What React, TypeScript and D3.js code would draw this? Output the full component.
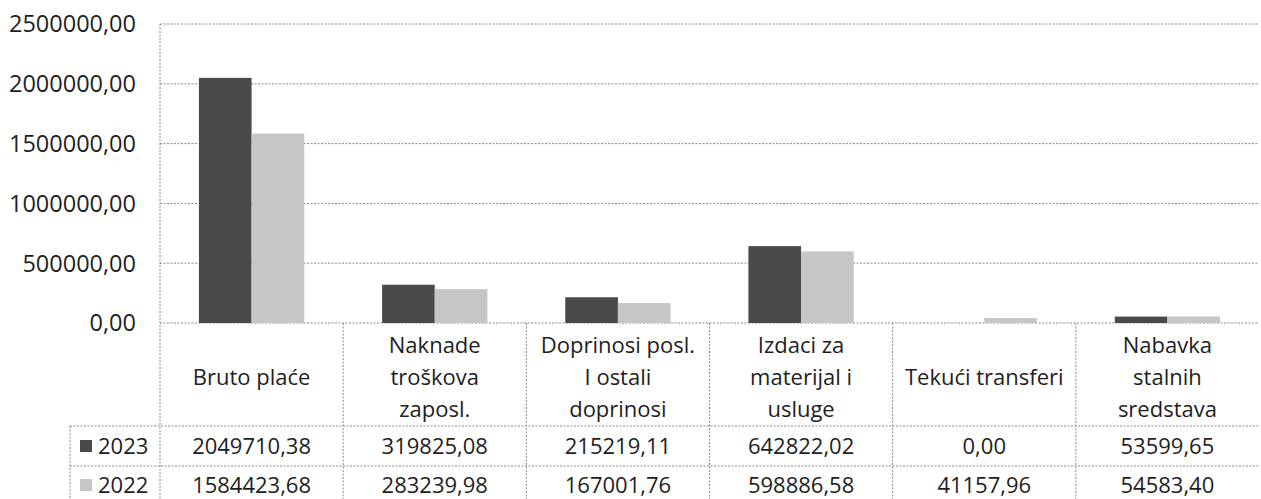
import React from "react";
import * as d3 from "d3";

const categories: string[][] = [
  ["Bruto plaće"],
  ["Naknade", "troškova", "zaposl."],
  ["Doprinosi posl.", "I ostali", "doprinosi"],
  ["Izdaci za", "materijal i", "usluge"],
  ["Tekući transferi"],
  ["Nabavka", "stalnih", "sredstava"],
];
const seriesNames = ["2023", "2022"];
const values2023 = [2049710.38, 319825.08, 215219.11, 642822.02, 0.0, 53599.65];
const values2022 = [1584423.68, 283239.98, 167001.76, 598886.58, 41157.96, 54583.4];
const yTicks = [0, 500000, 1000000, 1500000, 2000000, 2500000];

const W = 1261;
const H = 499;
const plotLeft = 160;
const plotRight = 1259;
const plotTop = 24;
const plotBottom = 323;
const row1 = 426;
const row2 = 466;
const tableBottom = 510;
const legendLeft = 70;
const FONT = "'Open Sans', Lato, sans-serif";
const FS = 22;
const colors = ["#4a4a4a", "#c6c6c6"];
const gridColor = "#8a8a8a";
const textColor = "#1e1e1e";

const fmt = (v: number) => d3.format(".2f")(v).replace(".", ",");

export default function App() {
  const ids = categories.map((_, i) => String(i));
  const x = d3.scaleBand<string>().domain(ids).range([plotLeft, plotRight]).paddingInner(0).paddingOuter(0);
  const bw = x.bandwidth();
  const groupW = bw * 0.575;
  const xi = d3.scaleBand<string>().domain(seriesNames).range([(bw - groupW) / 2, (bw + groupW) / 2]);
  const y = d3.scaleLinear().domain([0, 2500000]).range([plotBottom, plotTop]);
  const series = [values2023, values2022];
  const dash = "2,1.5";
  const rowY = [(row1 + row2) / 2, row2 + 19];

  return (
    <svg width={W} height={H} style={{ position: "absolute", left: 0, top: 0, background: "#fff" }} fontFamily={FONT}>
      <rect x={0} y={0} width={W} height={H} fill="#fff" />
      {yTicks.map((t) => (
        <line key={t} x1={plotLeft} x2={plotRight} y1={y(t)} y2={y(t)} stroke={gridColor} strokeWidth={1} strokeDasharray={dash} />
      ))}
      {yTicks.map((t) => (
        <text key={"l" + t} x={136} y={y(t)} dy="0.36em" textAnchor="end" fontSize={23.5} fill={textColor}>
          {fmt(t)}
        </text>
      ))}
      {series.map((vals, si) =>
        vals.map((v, i) => (
          <rect
            key={si + "-" + i}
            x={(x(String(i)) as number) + (xi(seriesNames[si]) as number)}
            y={y(v)}
            width={xi.bandwidth()}
            height={plotBottom - y(v)}
            fill={colors[si]}
          />
        ))
      )}
      <line x1={plotLeft} x2={plotLeft} y1={plotTop} y2={tableBottom} stroke={gridColor} strokeDasharray={dash} />
      {ids.slice(1).map((id) => (
        <line key={"v" + id} x1={x(id)} x2={x(id)} y1={plotBottom} y2={tableBottom} stroke={gridColor} strokeDasharray={dash} />
      ))}
      <line x1={legendLeft} x2={legendLeft} y1={row1} y2={tableBottom} stroke={gridColor} strokeDasharray={dash} />
      {[row1, row2].map((ry) => (
        <line key={"h" + ry} x1={legendLeft} x2={plotRight} y1={ry} y2={ry} stroke={gridColor} strokeDasharray={dash} />
      ))}
      {categories.map((lines, i) => {
        const cx = (x(String(i)) as number) + bw / 2;
        const lh = 32;
        const mid = 377;
        const start = mid - ((lines.length - 1) * lh) / 2;
        return (
          <text key={"c" + i} textAnchor="middle" fontSize={FS} fill={textColor}>
            {lines.map((ln, k) => (
              <tspan key={k} x={cx} y={start + k * lh} dy="0.36em">
                {ln}
              </tspan>
            ))}
          </text>
        );
      })}
      {seriesNames.map((s, si) => (
        <g key={"lg" + s}>
          <rect x={80} y={rowY[si] - 6} width={12} height={12} fill={colors[si]} />
          <text x={98} y={rowY[si]} dy="0.36em" fontSize={FS} fill={textColor}>
            {s}
          </text>
        </g>
      ))}
      {series.map((vals, si) =>
        vals.map((v, i) => (
          <text
            key={"t" + si + i}
            x={(x(String(i)) as number) + bw / 2}
            y={rowY[si]}
            dy="0.36em"
            textAnchor="middle"
            fontSize={FS}
            fill={textColor}
          >
            {fmt(v)}
          </text>
        ))
      )}
    </svg>
  );
}
